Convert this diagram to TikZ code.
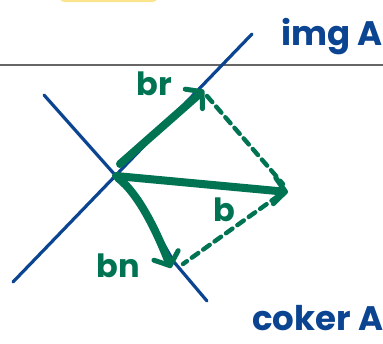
\documentclass[tikz,border=0pt]{standalone}
\usepackage{fontspec}
\setmainfont{Poppins}
\usepackage{xcolor}
\usepackage{tikz}
\usetikzlibrary{arrows, arrows.meta, positioning, calc}
\definecolor{inkblue}{HTML}{0B4491}
\definecolor{inkgreen}{HTML}{007352}
\definecolor{marker}{HTML}{FCE48C}
\tikzstyle{subspace} = [draw=inkblue, line width=3.2pt, line cap=round, line join=round]
\tikzstyle{vec} = [draw=inkgreen, line width=8pt, line cap=round, -{Straight Barb[length=11pt,width=26pt,line width=5pt,round]}]
\tikzstyle{proj} = [draw=inkgreen, line width=4.4pt, line cap=round, dash pattern=on 8pt off 6pt]
\tikzstyle{bluelabel} = [text=inkblue, font=\fontsize{34}{36}\selectfont\bfseries, inner sep=0pt, anchor=west]
\tikzstyle{greenlabel} = [text=inkgreen, font=\fontsize{32}{34}\selectfont\bfseries, inner sep=0pt]

\begin{document}
\begin{tikzpicture}[x=1pt, y=-1pt]
    \useasboundingbox (0,0) rectangle (383,343);
    % highlighter strip and page rule
    \fill [marker, rounded corners=4pt] (60,-10) rectangle (157,2);
    \draw [gray!80!black, line width=1.2pt] (0,65) -- (383,65);

    \coordinate (img1) at (13,282);
    \coordinate (img2) at (252,34);
    \coordinate (cok1) at (44,95);
    \coordinate (cok2) at (207,301);
    \coordinate (o) at (116,176);
    \coordinate (rtip) at (204,90);
    \coordinate (btip) at (288,192);
    \coordinate (ntip) at (171,268);

    \node (img) [bluelabel] at (281,37) {img A};
    \node (coker) [bluelabel] at (252,318) {coker A};
    \node (br) [greenlabel] at (154,84) {br};
    \node (b) [greenlabel] at (224,210) {b};
    \node (bn) [greenlabel] at (118,266) {bn};

    \draw [subspace] (img1) -- (img2);
    \draw [subspace] (cok1) -- (o)
        .. controls (142,202) and (158,235) .. (174,262) -- (cok2);

    \draw [proj] ($(rtip)+(3,6)$) -- ($(btip)+(-5,-8)$);
    \draw [proj] ($(btip)+(-10,4)$) -- ($(ntip)+(12,-4)$);

    \draw [vec] ($(o)+(4,-12)$) -- (rtip);
    \draw [vec] (o) -- (btip);
    \draw [vec] ($(o)+(2,2)$) .. controls (140,195) and (158,235) .. (ntip);
\end{tikzpicture}
\end{document}
